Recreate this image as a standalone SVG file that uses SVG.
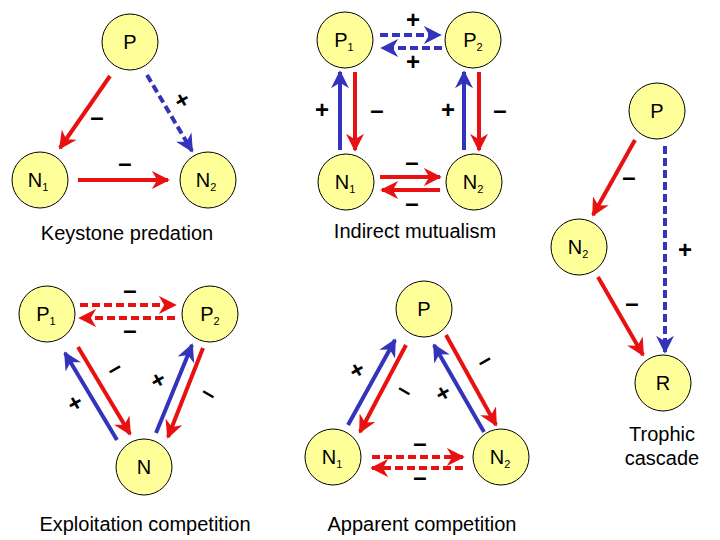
<svg xmlns="http://www.w3.org/2000/svg" width="720" height="540" viewBox="0 0 720 540">
<style>
.n{fill:#ffff99;stroke:#000;stroke-width:1}
.t{font-family:"Liberation Sans",Arial,sans-serif;font-size:20px;text-anchor:middle}
.s{font-family:"Liberation Sans",Arial,sans-serif;font-size:11px}
.l{font-family:"Liberation Sans",Arial,sans-serif;font-size:20px;text-anchor:middle}
.r{stroke:#e81010;stroke-width:4;fill:none;marker-end:url(#ar)}
.b{stroke:#3333bb;stroke-width:4;fill:none;marker-end:url(#ab)}
.d{stroke-dasharray:8 4}
.g{font-family:"Liberation Sans",Arial,sans-serif;font-size:24px;font-weight:bold;text-anchor:middle}
</style>
<defs>
<marker id="ar" viewBox="0 0 10 10" refX="9" refY="5" markerWidth="4.5" markerHeight="4.5" orient="auto" markerUnits="strokeWidth"><path d="M0,0L10,5L0,10L3,5z" fill="#e81010"/></marker>
<marker id="ab" viewBox="0 0 10 10" refX="9" refY="5" markerWidth="4.5" markerHeight="4.5" orient="auto" markerUnits="strokeWidth"><path d="M0,0L10,5L0,10L3,5z" fill="#3333bb"/></marker>
</defs>
<g id="connectors">
<line class="r" x1="110" y1="76" x2="60" y2="148"/>
<line class="b d" x1="147" y1="75" x2="192" y2="151"/>
<line class="r" x1="78" y1="180" x2="168" y2="180"/>
<line class="b d" x1="380" y1="35" x2="440" y2="35"/>
<line class="b d" x1="442" y1="48" x2="382" y2="48"/>
<line class="b" x1="340" y1="150" x2="340" y2="72"/>
<line class="r" x1="355" y1="72" x2="355" y2="150"/>
<line class="b" x1="464" y1="150" x2="464" y2="72"/>
<line class="r" x1="479" y1="72" x2="479" y2="150"/>
<line class="r" x1="380" y1="177" x2="440" y2="177"/>
<line class="r" x1="440" y1="190" x2="382" y2="190"/>
<line class="r" x1="635" y1="140" x2="593" y2="215"/>
<line class="b d" x1="665" y1="146" x2="665" y2="352"/>
<line class="r" x1="598" y1="277" x2="643" y2="355"/>
<line class="r d" x1="80" y1="305" x2="175" y2="305"/>
<line class="r d" x1="175" y1="318" x2="80" y2="318"/>
<line class="b" x1="117" y1="440" x2="65" y2="353"/>
<line class="r" x1="78" y1="347" x2="130" y2="434"/>
<line class="b" x1="156" y1="433" x2="192" y2="345"/>
<line class="r" x1="203" y1="348" x2="168" y2="437"/>
<line class="b" x1="348" y1="425" x2="395" y2="340"/>
<line class="r" x1="406" y1="345" x2="360" y2="432"/>
<line class="b" x1="484" y1="432" x2="434" y2="345"/>
<line class="r" x1="446" y1="335" x2="496" y2="425"/>
<line class="r d" x1="372" y1="457" x2="463" y2="457"/>
<line class="r d" x1="463" y1="468" x2="372" y2="468"/>
</g>
<g id="signs">
<text class="g" x="97" y="125">–</text>
<text class="g" x="182" y="108" transform="rotate(-30 182 100)">+</text>
<text class="g" x="125" y="171">–</text>
<text class="g" x="413" y="28">+</text>
<text class="g" x="413" y="70">+</text>
<text class="g" x="322" y="118">+</text>
<text class="g" x="377" y="118">–</text>
<text class="g" x="448" y="118">+</text>
<text class="g" x="500" y="118">–</text>
<text class="g" x="412" y="170">–</text>
<text class="g" x="412" y="211">–</text>
<text class="g" x="629" y="185">–</text>
<text class="g" x="685" y="258">+</text>
<text class="g" x="632" y="311">–</text>
<text class="g" x="130" y="298">–</text>
<text class="g" x="130" y="338">–</text>
<text class="g" x="75" y="411" transform="rotate(-30 75 403)">+</text>
<text class="g" x="114" y="376" transform="rotate(-30 114 368)">–</text>
<text class="g" x="158" y="388" transform="rotate(-30 158 380)">+</text>
<text class="g" x="209" y="401" transform="rotate(30 209 393)">–</text>
<text class="g" x="357" y="378" transform="rotate(-30 357 370)">+</text>
<text class="g" x="405" y="398" transform="rotate(30 405 390)">–</text>
<text class="g" x="484" y="368" transform="rotate(-30 484 360)">–</text>
<text class="g" x="443" y="401" transform="rotate(-30 443 393)">+</text>
<text class="g" x="420" y="451">–</text>
<text class="g" x="420" y="485">–</text>
</g>
<g id="k-P"><circle class="n" cx="130" cy="42" r="28"/><text class="t" x="130" y="49">P</text></g>
<g id="k-N1"><circle class="n" cx="40" cy="180" r="28"/><text class="t" x="38" y="187">N<tspan class="s" dy="4">1</tspan></text></g>
<g id="k-N2"><circle class="n" cx="208" cy="180" r="28"/><text class="t" x="206" y="187">N<tspan class="s" dy="4">2</tspan></text></g>
<text class="l" x="127" y="240">Keystone predation</text>
<g id="i-P1"><circle class="n" cx="345" cy="40" r="28"/><text class="t" x="344" y="47">P<tspan class="s" dy="4">1</tspan></text></g>
<g id="i-P2"><circle class="n" cx="473" cy="40" r="28"/><text class="t" x="473" y="47">P<tspan class="s" dy="4">2</tspan></text></g>
<g id="i-N1"><circle class="n" cx="346" cy="182" r="28"/><text class="t" x="345" y="189">N<tspan class="s" dy="4">1</tspan></text></g>
<g id="i-N2"><circle class="n" cx="474" cy="182" r="28"/><text class="t" x="473" y="189">N<tspan class="s" dy="4">2</tspan></text></g>
<text class="l" x="415" y="238">Indirect mutualism</text>
<g id="t-P"><circle class="n" cx="657" cy="111" r="28"/><text class="t" x="657" y="118">P</text></g>
<g id="t-N2"><circle class="n" cx="579" cy="247" r="28"/><text class="t" x="578" y="254">N<tspan class="s" dy="4">2</tspan></text></g>
<g id="t-R"><circle class="n" cx="663" cy="383" r="28"/><text class="t" x="663" y="390">R</text></g>
<text class="l" x="662" y="441">Trophic</text>
<text class="l" x="662" y="465">cascade</text>
<g id="e-P1"><circle class="n" cx="47" cy="314" r="28"/><text class="t" x="46" y="321">P<tspan class="s" dy="4">1</tspan></text></g>
<g id="e-P2"><circle class="n" cx="210" cy="314" r="28"/><text class="t" x="210" y="321">P<tspan class="s" dy="4">2</tspan></text></g>
<g id="e-N"><circle class="n" cx="144" cy="467" r="28"/><text class="t" x="144" y="474">N</text></g>
<text class="l" x="145" y="531">Exploitation competition</text>
<g id="a-P"><circle class="n" cx="424" cy="309" r="28"/><text class="t" x="424" y="316">P</text></g>
<g id="a-N1"><circle class="n" cx="333" cy="457" r="28"/><text class="t" x="332" y="464">N<tspan class="s" dy="4">1</tspan></text></g>
<g id="a-N2"><circle class="n" cx="501" cy="457" r="28"/><text class="t" x="500" y="464">N<tspan class="s" dy="4">2</tspan></text></g>
<text class="l" x="422" y="531">Apparent competition</text>
</svg>
